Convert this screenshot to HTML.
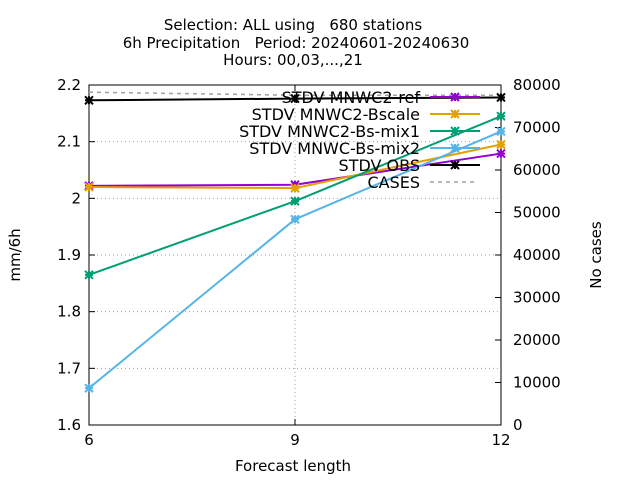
<!DOCTYPE html>
<html><head><meta charset="utf-8"><style>
body{margin:0;background:#fff;}
svg text{font-family:"DejaVu Sans","Liberation Sans",sans-serif;font-size:15px;fill:#000;white-space:pre;}
#legend text{font-size:16px;}
</style></head><body>
<svg id="c" width="640" height="480" xmlns="http://www.w3.org/2000/svg">
<g>
<text x="293" y="30" text-anchor="middle" xml:space="preserve">Selection: ALL using   680 stations</text>
<text x="296" y="48" text-anchor="middle" xml:space="preserve">6h Precipitation   Period: 20240601-20240630</text>
<text x="293" y="65" text-anchor="middle">Hours: 00,03,...,21</text>
</g>
<text x="293" y="471" text-anchor="middle">Forecast length</text>
<text transform="translate(20,255) rotate(-90)" text-anchor="middle">mm/6h</text>
<text transform="translate(601,255) rotate(-90)" text-anchor="middle">No cases</text>
<g id="grid"></g><g id="axes"></g><g id="series"></g><g id="legend"></g>
</svg>
<script>
const xCats=[6,9,12];
const yTicks=[1.6,1.7,1.8,1.9,2.0,2.1,2.2];
const yTickLabels=["1.6","1.7","1.8","1.9","2","2.1","2.2"];
const y2Ticks=[0,10000,20000,30000,40000,50000,60000,70000,80000];
const seriesNames=["STDV MNWC2-ref","STDV MNWC2-Bscale","STDV MNWC2-Bs-mix1","STDV MNWC-Bs-mix2","STDV OBS"];
const seriesColors=["#9400d3","#e69f00","#009e73","#56b4e9","#000000"];
const refVals=[2.022,2.024,2.079];
const bscaleVals=[2.020,2.018,2.095];
const mix1Vals=[1.865,1.995,2.145];
const mix2Vals=[1.665,1.963,2.118];
const obsVals=[2.173,2.176,2.178];
const casesVals=[78300,77600,77600];
const X0=89,X1=501,Y0=425,Y1=85;
const xs=v=>X0+(v-6)/6*(X1-X0);
const ys=v=>Y0-(v-1.6)/0.6*(Y0-Y1);
const ys2=v=>Y0-v/80000*(Y0-Y1);
const NS="http://www.w3.org/2000/svg";
function mk(p,t,a){const e=document.createElementNS(NS,t);for(const k in a)e.setAttribute(k,a[k]);p.appendChild(e);return e;}
const grid=document.getElementById('grid'),axes=document.getElementById('axes'),ser=document.getElementById('series'),leg=document.getElementById('legend');
yTicks.forEach((t,i)=>{const y=ys(t);
 if(i>0&&i<yTicks.length-1){const g=mk(grid,'line',{x1:X0,x2:X1,y1:y,y2:y,stroke:'#a0a0a0','stroke-dasharray':'1,3','stroke-width':1});}
 mk(axes,'line',{x1:X0,x2:X0+6,y1:y,y2:y,stroke:'#000'});
 const tx=mk(axes,'text',{x:X0-8,y:y+5,'text-anchor':'end'});tx.textContent=yTickLabels[i];
 });
y2Ticks.forEach(t=>{const y=ys2(t);
 mk(axes,'line',{x1:X1-6,x2:X1,y1:y,y2:y,stroke:'#000'});
 const tx=mk(axes,'text',{x:X1+12,y:y+5});tx.textContent=t;
 });
xCats.forEach((c,i)=>{const x=xs(c);
 if(i==1){const g=mk(grid,'line',{x1:x,x2:x,y1:Y0,y2:Y1,stroke:'#a0a0a0','stroke-dasharray':'1,3'});}
 mk(axes,'line',{x1:x,x2:x,y1:Y0,y2:Y0-6,stroke:'#000'});mk(axes,'line',{x1:x,x2:x,y1:Y1,y2:Y1+6,stroke:'#000'});
 const tx=mk(axes,'text',{x:x,y:Y0+20,'text-anchor':'middle'});tx.textContent=c;
 });
const fr=mk(axes,'rect',{x:X0,y:Y1,width:X1-X0,height:Y0-Y1,fill:'none',stroke:'#000'});

function marker(p,x,y,c){mk(p,'path',{d:`M${x-4},${y-4}L${x+4},${y+4}M${x-4},${y+4}L${x+4},${y-4}M${x-4},${y}L${x+4},${y}M${x},${y-4}L${x},${y+4}`,stroke:c,'stroke-width':2});}
const cp=mk(ser,'polyline',{points:xCats.map((c,i)=>xs(c)+','+ys2(casesVals[i])).join(' '),fill:'none',stroke:'#a0a0a0','stroke-width':1.5,'stroke-dasharray':'4,4'});

const allVals=[refVals,bscaleVals,mix1Vals,mix2Vals,obsVals];
const sNames=['ref-line','bscale-line','mix1-line','mix2-line','obs-line'];
allVals.forEach((vals,si)=>{const g=mk(ser,'g',{});
 
 mk(g,'polyline',{points:xCats.map((c,i)=>xs(c)+','+ys(vals[i])).join(' '),fill:'none',stroke:seriesColors[si],'stroke-width':2});
 xCats.forEach((c,i)=>marker(g,xs(c),ys(vals[i]),seriesColors[si]));});
seriesNames.concat(['CASES']).forEach((n,i)=>{const y=97+i*17;const g=mk(leg,'g',{});
 
 const t=mk(g,'text',{x:420,y:y+6,'text-anchor':'end'});t.textContent=n;
 if(i<5){mk(g,'line',{x1:430,x2:480,y1:y,y2:y,stroke:seriesColors[i],'stroke-width':2});marker(g,455,y,seriesColors[i]);}
 else mk(g,'line',{x1:430,x2:476,y1:y,y2:y,stroke:'#a0a0a0','stroke-width':1.5,'stroke-dasharray':'4,4'});});
</script>
</body></html>
